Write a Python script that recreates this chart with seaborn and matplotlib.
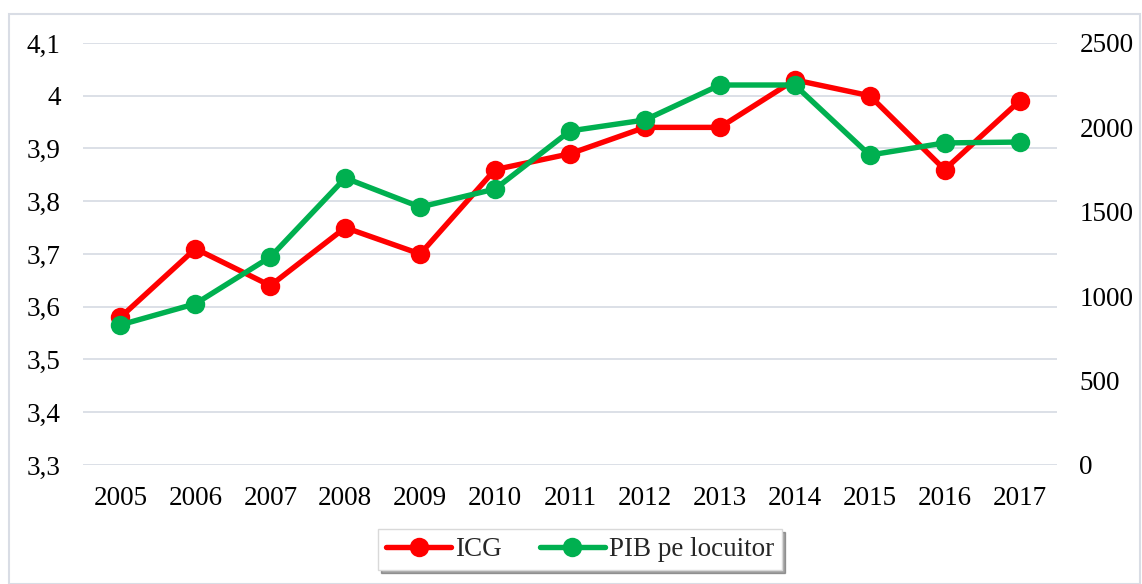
import numpy as np
import pandas as pd
import matplotlib.pyplot as plt
import seaborn as sns

years = ["2005", "2006", "2007", "2008", "2009", "2010", "2011",
         "2012", "2013", "2014", "2015", "2016", "2017"]
icg = [3.58, 3.71, 3.64, 3.75, 3.70, 3.86, 3.89, 3.94, 3.94, 4.03, 4.00, 3.86, 3.99]
pib = [830, 955, 1232, 1700, 1528, 1635, 1979, 2044, 2251, 2251, 1836, 1908, 1913]

df = pd.DataFrame({"year": years, "ICG": icg, "PIB": pib})
df["x"] = np.arange(len(years))

sns.set_style("white")
plt.rcParams["font.family"] = ["Liberation Serif", "DejaVu Serif"]

fig = plt.figure(figsize=(11.42, 5.84), dpi=100)
ax = fig.add_axes([0.0727, 0.2038, 0.8529, 0.7226])
ax2 = ax.twinx()

red = "#FF0000"
green = "#00B050"

sns.lineplot(data=df, x="x", y="ICG", ax=ax, color=red, linewidth=3.9,
             marker="o", markersize=14, markeredgewidth=0, label="ICG", legend=False)
sns.lineplot(data=df, x="x", y="PIB", ax=ax2, color=green, linewidth=3.9,
             marker="o", markersize=14, markeredgewidth=0, label="PIB pe locuitor",
             legend=False)

ax.set_xlim(-0.5, 12.5)
ax.set_ylim(3.3, 4.1)
ax2.set_ylim(0, 2500)
ax.set_yticks(np.arange(3.3, 4.11, 0.1))
ax.set_yticklabels([f"{v:.1f}".replace(".", ",").replace(",0", "") for v in np.arange(3.3, 4.11, 0.1)])
ax2.set_yticks([0, 500, 1000, 1500, 2000, 2500])
ax.set_xticks(df["x"])
ax.set_xticklabels(years)
ax.set_xlabel("")
ax.set_ylabel("")
ax2.set_ylabel("")

ax.yaxis.grid(True, color="#d9dde5", linewidth=1.3)
ax.set_axisbelow(True)
for a in (ax, ax2):
    for s in a.spines.values():
        s.set_visible(False)
    a.tick_params(length=0, labelsize=19.5, colors="black")
ax.tick_params(axis="y", pad=16)
ax.tick_params(axis="x", pad=15)
ax2.tick_params(axis="y", pad=16)

h1, l1 = ax.get_legend_handles_labels()
h2, l2 = ax2.get_legend_handles_labels()
fig.legend(h1 + h2, l1 + l2, loc="center", bbox_to_anchor=(0.508, 0.059), ncol=2,
           fontsize=19.5, frameon=True, shadow=True, fancybox=False,
           edgecolor="#d9d9d9", handlelength=2.4, columnspacing=1.4, handletextpad=0.15,
           borderpad=0.3)

border = plt.Rectangle((0.008, 0.0), 0.99, 0.976, transform=fig.transFigure,
                       fill=False, edgecolor="#d9dde5", linewidth=1.5)
fig.patches.append(border)

fig.savefig("out.png", dpi=100)
